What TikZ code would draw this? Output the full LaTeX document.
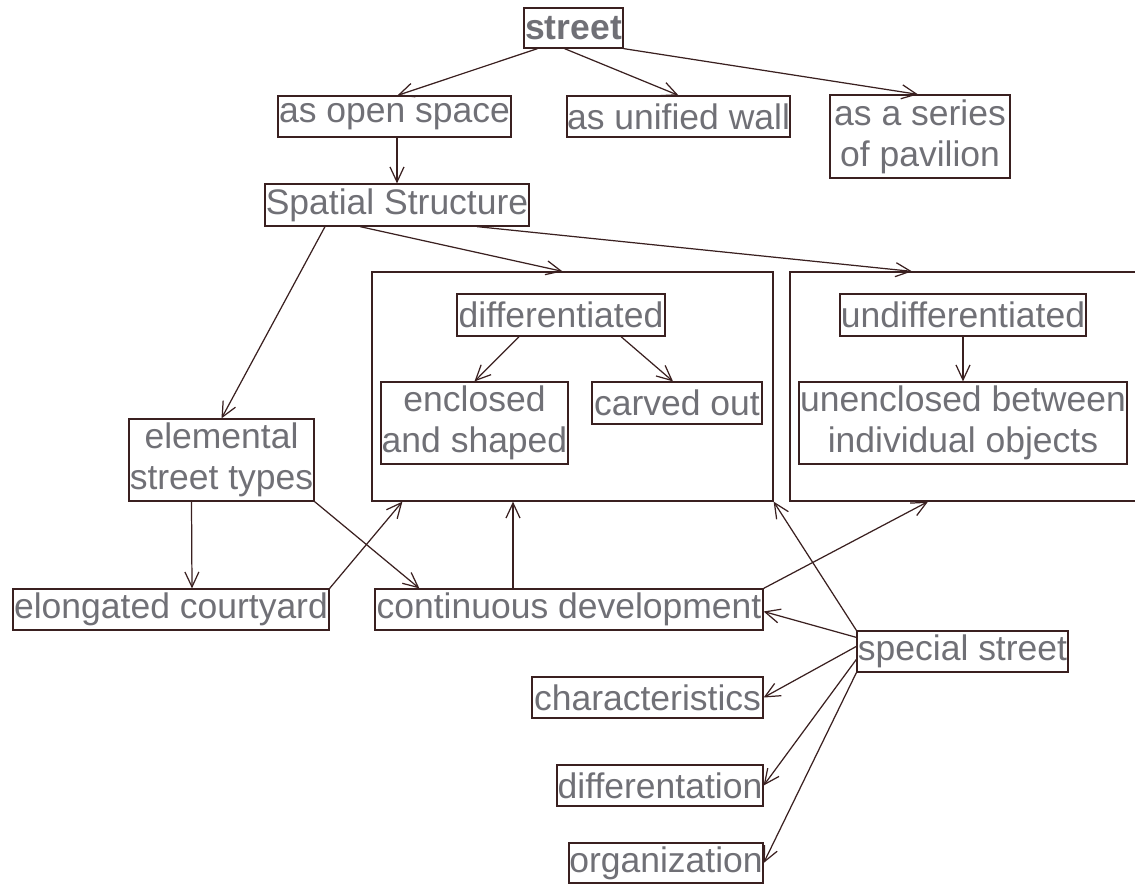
\documentclass[tikz,border=0pt]{standalone}
\usepackage{fontspec}
\setmainfont{Liberation Sans}
\usetikzlibrary{arrows.meta,calc}

\definecolor{edgecol}{RGB}{58,32,32}
\definecolor{txtcol}{RGB}{112,112,118}

\begin{document}
\begin{tikzpicture}[
        x=0.2mm, y=-0.2mm,
        >={Straight Barb[length=3mm,width=2.8mm]},
        box/.style={draw=edgecol, line width=0.7pt, text=txtcol, inner sep=0pt,
                    align=center, font=\fontsize{20.2}{23.2}\selectfont},
        frame/.style={draw=edgecol, line width=0.7pt, inner sep=0pt},
        link/.style={->, draw=edgecol, line width=0.7pt},
      ]
      \useasboundingbox (0,0) rectangle (1135,883);

      % frames
      \node[frame, minimum width=80.2mm, minimum height=45.8mm] (fr1) at (572.5,386.5) {};
      \node[frame, minimum width=70mm, minimum height=45.8mm] (fr2) at (965,386.5) {};

      \node[box, minimum width=19.8mm, minimum height=8mm, font=\fontsize{20.2}{23.2}\selectfont\bfseries] (street) at (573.5,28) {street};
      \node[box, minimum width=46.6mm, minimum height=8.2mm] (opensp) at (394.5,116.5) {as open space};
      \node[box, minimum width=44.6mm, minimum height=8.2mm] (wall) at (678.5,116.5) {as unified wall};
      \node[box, minimum width=36mm, minimum height=16.6mm] (pavil) at (920,136.5) {as a series\\of pavilion};
      \node[box, minimum width=52.8mm, minimum height=8.4mm] (spatial) at (397,205) {Spatial Structure};

      \node[box, minimum width=41.6mm, minimum height=8.4mm] (diff) at (561,315) {differentiated};
      \node[box, minimum width=37.4mm, minimum height=16.4mm] (encl) at (474.5,423) {enclosed\\and shaped};
      \node[box, minimum width=34mm, minimum height=8.4mm] (carved) at (677,403) {carved out};
      \node[box, minimum width=49.2mm, minimum height=8.4mm] (undiff) at (963,315) {undifferentiated};
      \node[box, minimum width=65.6mm, minimum height=16.4mm] (unencl) at (963,423) {unenclosed between\\individual objects};

      \node[box, minimum width=37mm, minimum height=16.4mm] (elem) at (221.5,460) {elemental\\street types};
      \node[box, minimum width=63.2mm, minimum height=8.2mm] (elong) at (171,609.5) {elongated courtyard};
      \node[box, minimum width=77.6mm, minimum height=8.2mm] (contdev) at (569,609.5) {continuous development};
      \node[box, minimum width=42.2mm, minimum height=8.2mm] (special) at (962.5,651.5) {special street};
      \node[box, minimum width=46.2mm, minimum height=8.2mm] (charac) at (647.5,697.5) {characteristics};
      \node[box, minimum width=41.2mm, minimum height=8.2mm] (differ) at (660,785.5) {differentation};
      \node[box, minimum width=38.8mm, minimum height=8mm] (organ) at (666,863) {organization};

      % connectors
      \draw[link] ($(street.south)+(-36,0)$) -- ($(opensp.north)+(3,0)$);
      \draw[link] ($(street.south)+(-9,0)$) -- (wall.north);
      \draw[link] (street.south east) -- ($(pavil.north)+(-2,0)$);
      \draw[link] (spatial.north |- opensp.south) -- (spatial.north);
      \draw[link] ($(spatial.south)+(-72,0)$) -- (elem.north);
      \draw[link] ($(spatial.south)+(-37,0)$) -- ($(fr1.north)+(-10,0)$);
      \draw[link] ($(spatial.south)+(80,0)$) -- ($(fr2.north)+(-53,0)$);
      \draw[link] ($(diff.south)+(-42,0)$) -- (encl.north);
      \draw[link] ($(diff.south)+(60,0)$) -- ($(carved.north)+(-4,0)$);
      \draw[link] (undiff.south) -- (unencl.north);
      \draw[link] ($(elem.south)+(-30,0)$) -- ($(elong.north)+(21,0)$);
      \draw[link] (elem.south east) -- ($(contdev.north west)+(45,0)$);
      \draw[link] (elong.north east) -- ($(fr1.south west)+(31,0)$);
      \draw[link] ($(contdev.north)+(-56,0)$) -- ($(fr1.south)+(-59.5,0)$);
      \draw[link] (contdev.north east) -- ($(fr2.south)+(-37,0)$);
      \draw[link] (special.north west) -- (fr1.south east);
      \draw[link] ($(special.north west)+(0,7)$) -- ($(contdev.east)+(0,2)$);
      \draw[link] ($(special.north west)+(0,16)$) -- (charac.east);
      \draw[link] ($(special.north west)+(0,29)$) -- (differ.east);
      \draw[link] (special.south west) -- (organ.east);

    \end{tikzpicture}
\end{document}
